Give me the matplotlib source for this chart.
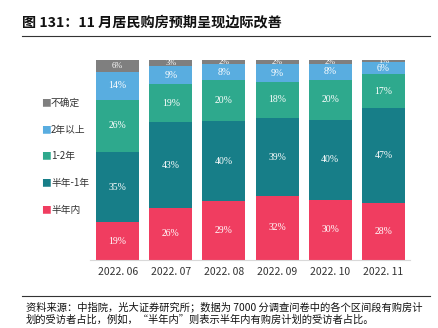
import matplotlib
matplotlib.use('Agg')
import matplotlib.pyplot as plt
import numpy as np

plt.rcParams['font.family'] = ['Noto Sans CJK SC', 'DejaVu Sans']

months = ['2022. 06', '2022. 07', '2022. 08', '2022. 09', '2022. 10', '2022. 11']
series_names = ['半年内', '半年-1年', '1-2年', '2年以上', '不确定']
half_year = [19, 26, 29, 32, 30, 28]
half_to_one = [35, 43, 40, 39, 40, 47]
one_to_two = [26, 19, 20, 18, 20, 17]
over_two = [14, 9, 8, 9, 8, 6]
unsure = [6, 3, 2, 2, 2, 1]
colors = ['#f03d60', '#177e88', '#2ea98d', '#59ade0', '#7f7f7f']

data = np.array([half_year, half_to_one, one_to_two, over_two, unsure], dtype=float)
heights = data / data.sum(axis=0) * 100

fig = plt.figure(figsize=(4.38, 3.28), dpi=100)
ax = fig.add_axes([90/438, 68/328, 320/438, 200/328])

x = np.arange(len(months))
bottom = np.zeros(len(months))
for i in range(len(series_names)):
    ax.bar(x, heights[i], 0.81, bottom=bottom, color=colors[i], edgecolor='none')
    for j in range(len(months)):
        fs = 7
        if i == len(series_names) - 1:
            fs = 6  # top segment is thin, label gets squeezed
        ax.text(x[j], bottom[j] + heights[i][j] / 2, '%d%%' % data[i][j],
                ha='center', va='center', color='white', fontsize=fs,
                family='Liberation Serif', clip_on=True)
    bottom += heights[i]

ax.set_xlim(-0.52, 5.5)
ax.set_ylim(0, 100)
ax.set_yticks([])
ax.set_xticks(x)
ax.set_xticklabels(months, fontsize=7.5, color='#333333')
ax.tick_params(axis='x', length=0, pad=5)
for s in ['top', 'right', 'left']:
    ax.spines[s].set_visible(False)
ax.spines['bottom'].set_color('#d9d9d9')

# legend on the left, top item first
leg_y = [103, 130, 156, 183, 210]
for k, i in enumerate(range(len(series_names) - 1, -1, -1)):
    yy = 1 - leg_y[k] / 328
    fig.text(41/438, yy, '■', color=colors[i], fontsize=7, va='center', ha='left')
    fig.text(51/438, yy, series_names[i], color='#333333', fontsize=7, va='center', ha='left')

fig.text(22/438, 1 - 22/328, '图 131：11 月居民购房预期呈现边际改善', fontsize=10.2,
         fontweight='bold', va='center', ha='left', color='#111111')
fig.add_artist(plt.Line2D([22/438, 430/438], [1 - 36/328, 1 - 36/328], color='#333333', lw=0.8))
fig.add_artist(plt.Line2D([22/438, 430/438], [1 - 296/328, 1 - 296/328], color='#333333', lw=0.8))
fig.text(26/438, 1 - 307/328, '资料来源：中指院，光大证券研究所；数据为 7000 分调查问卷中的各个区间段有购房计',
         fontsize=7.4, va='center', ha='left', color='#111111')
fig.text(26/438, 1 - 320/328, '划的受访者占比，例如，“半年内”则表示半年内有购房计划的受访者占比。',
         fontsize=7.4, va='center', ha='left', color='#111111')

fig.savefig('out.png', dpi=100)
